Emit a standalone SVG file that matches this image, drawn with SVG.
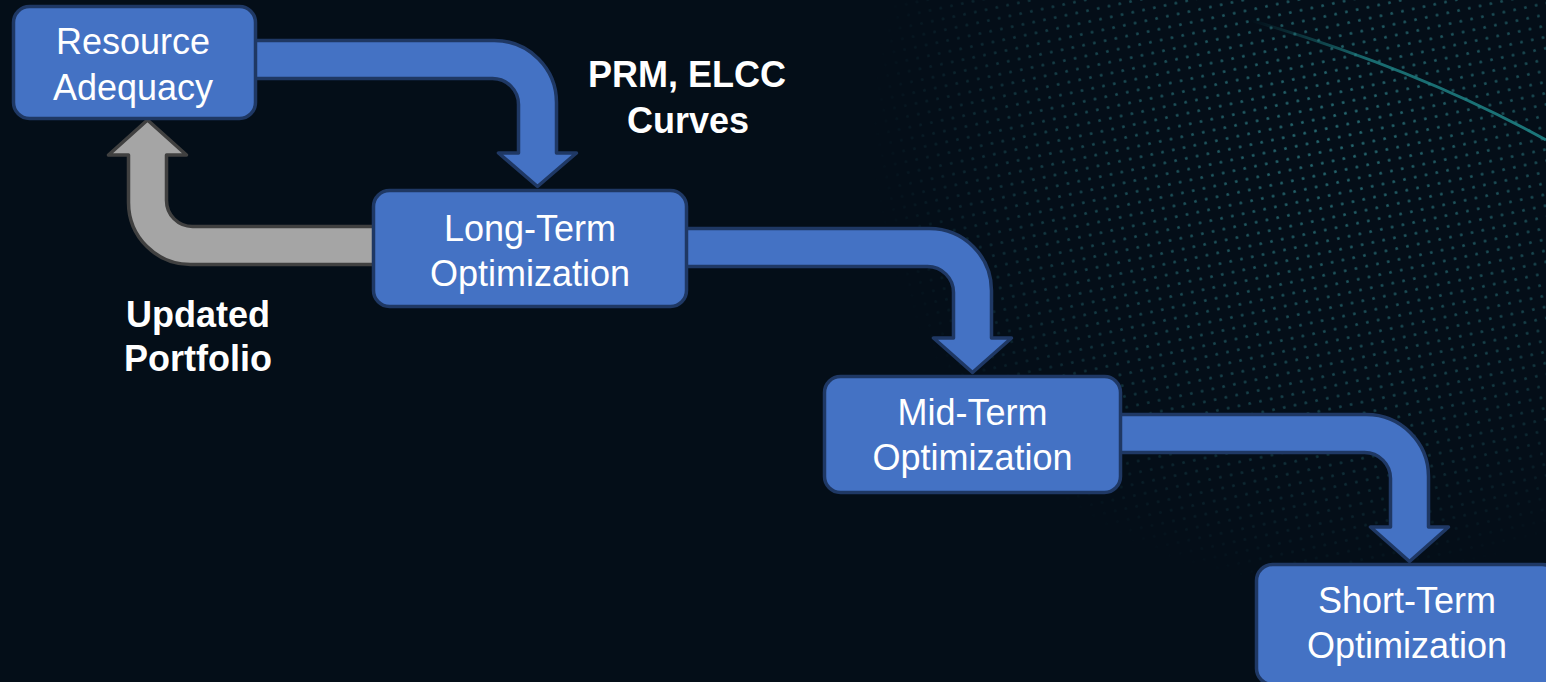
<svg xmlns="http://www.w3.org/2000/svg" width="1546" height="682" viewBox="0 0 1546 682">
  <defs>
    <style>
      .node rect { fill: #4472c4; stroke: #1f3864; stroke-width: 3.5; }
      .node text { font-family: "Liberation Sans", Arial, sans-serif; font-size: 36px; fill: #ffffff; text-anchor: middle; }
      .flow { fill: #4472c4; stroke: #1f3864; stroke-width: 3.5; stroke-linejoin: round; }
      .back { fill: #a5a5a5; stroke: #404040; stroke-width: 3.5; stroke-linejoin: round; }
      .label { font-family: "Liberation Sans", Arial, sans-serif; font-size: 36px; font-weight: bold; fill: #ffffff; text-anchor: middle; }
    </style>
    <pattern id="dots" width="11" height="11" patternUnits="userSpaceOnUse" patternTransform="rotate(-12)">
      <circle cx="5.5" cy="5.5" r="1.5" fill="#3aa0a6"/>
    </pattern>
    <radialGradient id="fade" cx="1330" cy="130" r="460" gradientUnits="userSpaceOnUse">
      <stop offset="0" stop-color="#fff" stop-opacity="0.9"/>
      <stop offset="0.6" stop-color="#fff" stop-opacity="0.5"/>
      <stop offset="1" stop-color="#fff" stop-opacity="0"/>
    </radialGradient>
    <mask id="dotmask">
      <rect x="0" y="0" width="1546" height="682" fill="url(#fade)"/>
    </mask>
    <linearGradient id="streak" x1="1250" y1="20" x2="1546" y2="140" gradientUnits="userSpaceOnUse">
      <stop offset="0" stop-color="#2ab3b3" stop-opacity="0"/>
      <stop offset="0.4" stop-color="#2ab3b3" stop-opacity="0.8"/>
      <stop offset="1" stop-color="#2ab3b3" stop-opacity="0.9"/>
    </linearGradient>
  </defs>

  <rect x="0" y="0" width="1546" height="682" fill="#040e18"/>
  <g id="background-texture" opacity="0.7">
    <rect x="820" y="0" width="726" height="580" fill="url(#dots)" mask="url(#dotmask)"/>
    <path d="M 1250 20 Q 1420 70 1546 140" fill="none" stroke="url(#streak)" stroke-width="3"/>
  </g>

  <g id="connectors">
    <path class="back" d="M 374 226.5 H 192.5 A 26 26 0 0 1 166.5 200.5 V 155 H 186.5 L 147.5 120 L 108.5 155 H 128.5 V 202.5 A 62 62 0 0 0 190.5 264.5 H 374 Z"/>
    <path class="flow" d="M 250 40.5 H 494.5 A 62 62 0 0 1 556.5 102.5 V 153 H 576.5 L 537.5 186.5 L 498.5 153 H 518.5 V 104.5 A 26 26 0 0 0 492.5 78.5 H 250 Z"/>
    <path class="flow" d="M 680 228.5 H 929.5 A 62 62 0 0 1 991.5 290.5 V 338 H 1011.5 L 972.5 372.5 L 933.5 338 H 953.5 V 292.5 A 26 26 0 0 0 927.5 266.5 H 680 Z"/>
    <path class="flow" d="M 1115 414.5 H 1366.5 A 62 62 0 0 1 1428.5 476.5 V 527 H 1448.5 L 1409.5 561.5 L 1370.5 527 H 1390.5 V 478.5 A 26 26 0 0 0 1364.5 452.5 H 1115 Z"/>
  </g>

  <g id="node-resource-adequacy" class="node">
    <rect x="13.5" y="6.5" width="242" height="112" rx="16"/>
    <text x="133" y="54">Resource</text>
    <text x="133" y="100">Adequacy</text>
  </g>
  <g id="node-long-term" class="node">
    <rect x="373.5" y="190.5" width="313" height="116" rx="16"/>
    <text x="530" y="241">Long-Term</text>
    <text x="530" y="286">Optimization</text>
  </g>
  <g id="node-mid-term" class="node">
    <rect x="824.5" y="376.5" width="296" height="116" rx="16"/>
    <text x="972.5" y="425">Mid-Term</text>
    <text x="972.5" y="470">Optimization</text>
  </g>
  <g id="node-short-term" class="node">
    <rect x="1256.5" y="564.5" width="302" height="120" rx="16"/>
    <text x="1407" y="613">Short-Term</text>
    <text x="1407" y="658">Optimization</text>
  </g>

  <g id="labels">
    <text class="label" x="687" y="87">PRM, ELCC</text>
    <text class="label" x="688" y="133">Curves</text>
    <text class="label" x="198" y="327">Updated</text>
    <text class="label" x="198" y="371">Portfolio</text>
  </g>
</svg>
